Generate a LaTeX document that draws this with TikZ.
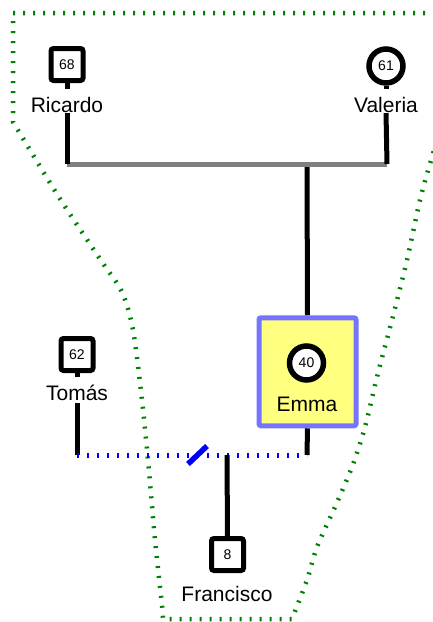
\documentclass[tikz,border=0pt]{standalone}
\usepackage{fontspec}
\setmainfont{Liberation Sans}
\usepackage{xcolor}
\usepackage{tikz}
\usetikzlibrary{backgrounds}

\definecolor{hhgreen}{HTML}{008000}
\definecolor{probline}{HTML}{7474FF}
\definecolor{probfill}{HTML}{FFFF80}
\definecolor{sepblue}{HTML}{0000FF}

\begin{document}
\begin{tikzpicture}[x=1pt,y=-1pt,
        male/.style={draw, line width=5pt, rounded corners=2.5pt, fill=white, minimum size=32pt, inner sep=0pt, font=\fontsize{14}{16}\selectfont},
        female/.style={circle, draw, line width=5.5pt, fill=white, minimum size=34pt, inner sep=0pt, font=\fontsize{14}{16}\selectfont},
        proband/.style={draw=probline, fill=probfill, line width=5pt, rounded corners=2pt, minimum width=97pt, minimum height=108pt},
        who/.style={anchor=base, inner sep=0pt, text height=15pt, text depth=0pt, font=\fontsize{21}{25}\selectfont},
        kin/.style={line width=5pt},
        marriage/.style={line width=5pt, draw=black!50},
        partners/.style={line width=5pt, draw=sepblue, dash pattern=on 2pt off 8pt},
        household/.style={line width=4.5pt, draw=hhgreen, dash pattern=on 2pt off 8pt}]
        \useasboundingbox (0,0) rectangle (432,622);
        \clip (0,0) rectangle (432,622);

        % Grandparents
        \node[male] (ricardo) at (67,64.5) {68};
        \node[who] (ricardoname) at (67,112) {Ricardo};
        \node[female] (valeria) at (386,66) {61};
        \node[who] (valerianame) at (386,112) {Valeria};

        % Emma
        \node[proband] (emmabox) at (307.5,371.75) {};
        \node[female] (emma) at (306.5,363) {40};
        \node[who] (emmaname) at (307,411) {Emma};

        % Partner and child
        \node[male] (tomas) at (77,354.5) {62};
        \node[who] (tomasname) at (77,400) {Tomás};
        \node[male] (francisco) at (227.5,554.5) {8};
        \node[who] (francisconame) at (227,601) {Francisco};

        \coordinate (couple-l) at (67,164);
        \coordinate (couple-r) at (387,164);
        \coordinate (sibs) at (307,164);
        \coordinate (tomas-end) at (77,455);
        \coordinate (emma-end) at (307,455);
        \coordinate (child) at (227,455);

        \begin{scope}[on background layer]
            % Household
            \draw[household] (445,13) -- (13,13) -- (13,122)
                -- plot[smooth] coordinates {(13,122) (30,150) (62,202) (102,262) (122,292) (133,330) (142,400) (148,460) (155,540) (162,605) (163,619)}
                -- (292,619)
                -- plot[smooth] coordinates {(292,619) (307,580) (317,547) (335,507) (352,467) (365,427) (378,373) (392,320) (407,260) (420,200) (432,157) (442,125)};

            % Lines of descent
            \draw[kin] (sibs) -- (emmabox.north);
            \draw[marriage] (couple-l) -- (couple-r);
            \draw[kin, shorten >=8pt] (ricardo.south) -- (ricardoname.north);
            \draw[kin, shorten <=1pt] (ricardoname.south) -- (couple-l);
            \draw[kin, shorten >=8pt] (valeria.south) -- (valerianame.north);
            \draw[kin, shorten <=1pt] (valerianame.south) -- (couple-r);

            \draw[kin, shorten >=8pt] (tomas.south) -- (tomasname.north);
            \draw[kin, shorten <=3pt] (tomasname.south) -- (tomas-end);
            \draw[kin] (emmabox.south) -- (emma-end);
            \draw[partners] (tomas-end) -- (emma-end);
            \draw[line width=5.5pt, sepblue] (188,464) -- (207,446); % separated
            \draw[kin] (child) -- (francisco.north);
        \end{scope}
    \end{tikzpicture}
\end{document}
